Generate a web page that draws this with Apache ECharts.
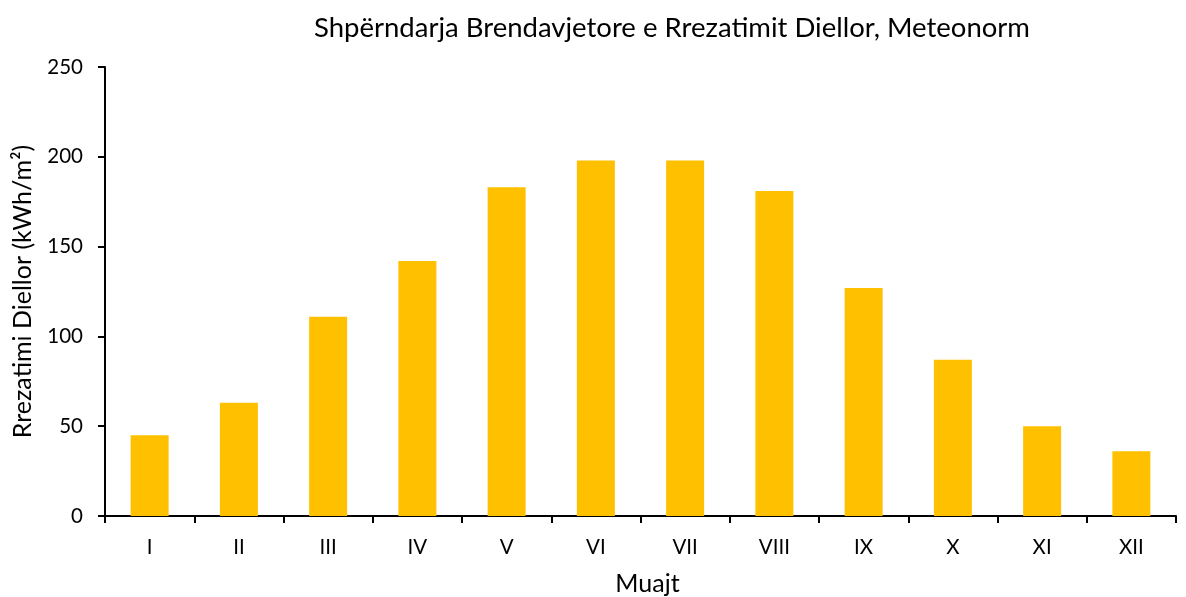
<!DOCTYPE html>
<html><head><meta charset="utf-8">
<script src="https://cdn.jsdelivr.net/npm/echarts@6/dist/echarts.min.js"></script>
<style>html,body{margin:0;padding:0;background:#fff}#c{width:1186px;height:597px}</style>
</head><body><div id="c"></div>
<script>
const categories = ['I','II','III','IV','V','VI','VII','VIII','IX','X','XI','XII'];
const values = [45, 63, 111, 142, 183, 198, 198, 181, 127, 87, 50, 36];
const yTicks = {min: 0, max: 250, interval: 50};
const FONT = 'Lato';
const chart = echarts.init(document.getElementById('c'));
chart.setOption({
  animation: false,
  title: {
    text: 'Shpërndarja Brendavjetore e Rrezatimit Diellor, Meteonorm',
    left: 667, top: 9, textAlign: 'center',
    textStyle: {fontFamily: FONT, fontSize: 27.5, fontWeight: 'normal', color: '#000'}
  },
  grid: {left: 105, right: 10, top: 67, bottom: 81, outerBoundsMode: 'none', containLabel: false},
  xAxis: {
    type: 'category', data: categories,
    name: 'Muajt', nameLocation: 'middle', nameGap: 55,
    nameTextStyle: {fontFamily: FONT, fontSize: 25, color: '#000', padding: [0, 0, 0, 14]},
    axisLine: {lineStyle: {color: '#000', width: 2}},
    axisTick: {show: true, alignWithLabel: false, length: 7, lineStyle: {color: '#000', width: 2}},
    axisLabel: {fontFamily: FONT, fontSize: 20.5, color: '#000', margin: 21}
  },
  yAxis: {
    type: 'value', min: yTicks.min, max: yTicks.max, interval: yTicks.interval,
    name: 'Rrezatimi Diellor (kWh/m²)', nameLocation: 'middle', nameGap: 70,
    nameTextStyle: {fontFamily: FONT, fontSize: 25, color: '#000'},
    axisLine: {show: true, lineStyle: {color: '#000', width: 2}},
    axisTick: {show: true, length: 7, lineStyle: {color: '#000', width: 2}},
    splitLine: {show: false},
    axisLabel: {fontFamily: FONT, fontSize: 20.5, color: '#000', margin: 22}
  },
  series: [{
    type: 'bar', data: values, barWidth: 38,
    itemStyle: {color: '#FFC000'}
  }]
});
</script></body></html>
